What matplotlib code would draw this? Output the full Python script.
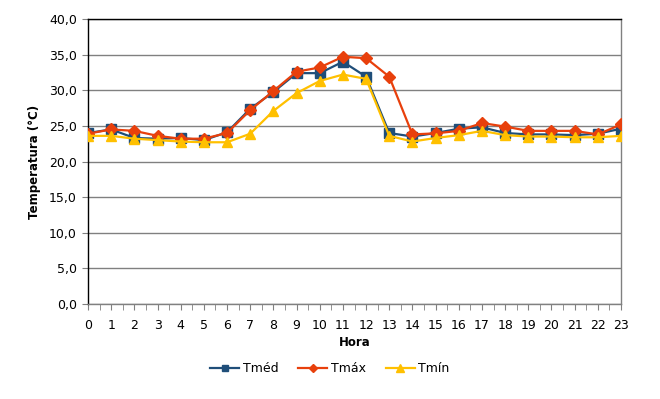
import matplotlib
matplotlib.use("Agg")
import matplotlib.pyplot as plt
from matplotlib.ticker import FuncFormatter, MultipleLocator

hours = list(range(24))
tmed = [24.0, 24.5, 23.3, 23.2, 23.3, 23.0, 24.1, 27.4, 29.75, 32.4, 32.4, 34.0,
        31.9, 24.0, 23.5, 24.0, 24.6, 24.8, 24.0, 23.8, 23.8, 23.7, 23.9, 24.6]
tmax = [23.9, 24.5, 24.3, 23.6, 23.2, 23.2, 24.0, 27.2, 29.9, 32.6, 33.2, 34.7,
        34.5, 31.9, 23.8, 23.95, 24.3, 25.4, 24.9, 24.3, 24.3, 24.3, 23.8, 25.2]
tmin = [23.6, 23.6, 23.2, 23.0, 22.8, 22.7, 22.7, 23.9, 27.1, 29.6, 31.3, 32.2,
        31.6, 23.6, 22.8, 23.3, 23.7, 24.3, 23.7, 23.5, 23.5, 23.4, 23.4, 23.6]

plt.rcParams['font.family'] = ['DejaVu Sans']

fig = plt.figure(figsize=(6.6, 3.99), dpi=100)
ax = fig.add_axes([88/660, 1-304/399, (621-88)/660, (304-19)/399])

ax.plot(hours, tmed, color='#1F4E79', lw=1.6, marker='s', ms=6.5, label='Tméd', zorder=3)
ax.plot(hours, tmax, color='#E8400C', lw=1.6, marker='D', ms=6, label='Tmáx', zorder=4)
ax.plot(hours, tmin, color='#FFC000', lw=1.6, marker='^', ms=7.5, label='Tmín', zorder=5)

ax.set_xlim(0, 23)
ax.set_ylim(0, 40)
ax.yaxis.set_major_locator(MultipleLocator(5))
ax.yaxis.set_major_formatter(FuncFormatter(lambda v, p: f"{v:.1f}".replace('.', ',')))
ax.set_xticks(hours)
ax.set_xticks([h + 0.5 for h in hours[:-1]], minor=True)
ax.grid(axis='y', color='#808080', lw=1.0)
ax.set_axisbelow(True)

for s in ['left', 'top']:
    ax.spines[s].set_color('black')
    ax.spines[s].set_linewidth(1.0)
for s in ['right', 'bottom']:
    ax.spines[s].set_color('#808080')
    ax.spines[s].set_linewidth(1.0)

ax.tick_params(axis='x', which='both', direction='out', length=4, color='#808080',
               labelsize=9, pad=7)
ax.tick_params(axis='y', direction='out', length=4, color='#808080', labelsize=9, pad=4)

ax.set_xlabel('Hora', fontsize=8.5, fontweight='bold', labelpad=3)
ax.set_ylabel('Temperatura (°C)', fontsize=8.5, fontweight='bold', labelpad=6)

fig.legend(loc='center', bbox_to_anchor=(330/660, 1-369/399), ncol=3, frameon=False,
           fontsize=9, handlelength=2.3, columnspacing=1.6, handletextpad=0.3,
           markerscale=0.75)

fig.savefig('out.png', dpi=100)
